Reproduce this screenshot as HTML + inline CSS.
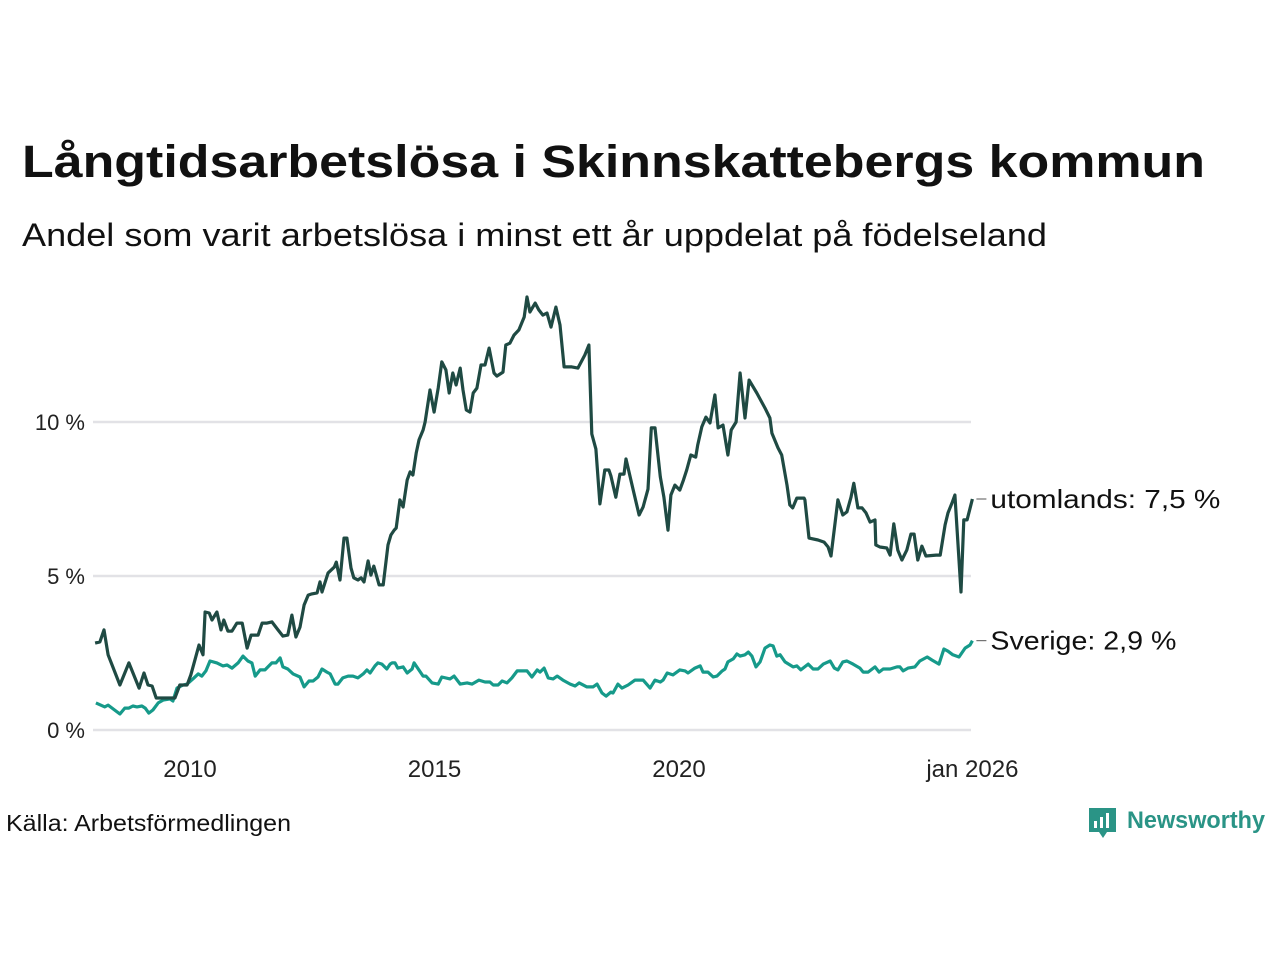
<!DOCTYPE html>
<html><head><meta charset="utf-8"><style>
html,body{margin:0;padding:0;background:#fff;}
svg{display:block;font-family:"Liberation Sans","DejaVu Sans",sans-serif;}
</style></head><body>
<svg id="chart" width="1280" height="960" viewBox="0 0 1280 960">
<text x="22" y="177" font-size="45" font-weight="bold" fill="#111" textLength="1183" lengthAdjust="spacingAndGlyphs">Långtidsarbetslösa i Skinnskattebergs kommun</text>
<text x="22" y="246" font-size="32" fill="#111" textLength="1025" lengthAdjust="spacingAndGlyphs">Andel som varit arbetslösa i minst ett år uppdelat på födelseland</text>
<g id="grid"></g>
<g id="yticks"></g>
<g id="xticks"></g>
<g id="lines"></g>
<g id="labels"></g>
<text x="6" y="831" font-size="23" fill="#111" textLength="285" lengthAdjust="spacingAndGlyphs">Källa: Arbetsförmedlingen</text>
<g>
<path d="M1089 808 h27 v24 h-9 l-4 6 l-4 -6 h-10 z" fill="#2a9486"/>
<rect x="1094" y="821" width="3" height="7" fill="#fff"/><rect x="1100" y="817" width="3" height="11" fill="#fff"/><rect x="1106" y="813" width="3" height="15" fill="#fff"/>
<text x="1127" y="828" font-size="24" font-weight="bold" fill="#2a9486" textLength="138" lengthAdjust="spacingAndGlyphs">Newsworthy</text>
</g>
</svg>
<script>
const yTicks=[0,5,10];
const yTickLabels=["0 %","5 %","10 %"];
const xTickMonths=[24,84,144,216];
const xTickLabels=["2010","2015","2020","jan 2026"];
const utoMonths=[0.7,1.9,2.9,3.9,6.8,9.0,11.5,12.7,13.7,14.7,15.7,19.1,20.3,21.5,23.3,24.2,25.2,26.2,27.2,27.7,28.7,29.4,30.6,31.6,32.3,33.3,34.3,35.5,36.8,38.0,39.0,40.7,41.7,42.9,44.1,45.6,46.8,48.0,49.0,50.0,51.0,52.0,53.0,53.9,55.2,55.9,56.4,57.9,59.4,59.9,60.8,61.8,62.5,63.5,64.2,65.2,66.0,66.7,67.7,68.4,69.1,70.4,71.4,72.6,73.3,74.1,74.6,75.5,76.3,77.3,78.0,78.7,79.5,80.2,81.2,81.7,82.9,83.9,84.9,85.8,86.8,87.6,88.5,89.3,90.3,91.0,91.8,92.7,93.5,94.4,95.4,96.4,97.4,98.6,99.3,100.8,101.5,102.5,103.5,104.7,106.0,106.7,107.4,108.7,109.6,110.6,111.6,112.6,113.8,114.8,115.8,116.8,117.7,119.2,120.9,121.9,122.6,123.6,124.6,125.8,126.8,127.3,128.5,129.5,130.5,131.0,132.7,134.2,135.2,136.4,137.2,138.1,139.4,140.3,141.3,142.0,143.0,144.2,145.1,145.9,146.9,148.1,148.6,149.6,150.6,151.6,152.8,153.6,154.8,156.0,156.8,158.0,159.0,160.2,161.2,163.1,165.1,166.3,166.8,168.3,169.2,170.5,171.2,171.9,172.9,174.7,174.9,175.9,178.1,179.6,180.6,181.3,183.0,184.2,185.2,186.2,186.9,187.9,188.9,189.9,190.9,192.1,192.3,193.3,195.0,195.8,196.7,197.7,198.7,199.9,200.9,201.7,202.6,203.6,204.6,207.1,208.1,209.3,210.0,211.0,211.7,213.2,213.9,214.7,216];
const utoValues=[2.82,2.86,3.25,2.44,1.46,2.18,1.36,1.85,1.46,1.43,1.04,1.04,1.04,1.46,1.46,1.79,2.27,2.76,2.44,3.83,3.80,3.57,3.83,3.25,3.57,3.21,3.21,3.47,3.47,2.66,3.08,3.08,3.47,3.47,3.51,3.25,3.05,3.08,3.73,3.02,3.34,4.06,4.38,4.42,4.45,4.81,4.48,5.10,5.29,5.45,4.87,6.23,6.23,5.26,4.94,4.87,4.94,4.81,5.49,5.03,5.32,4.71,4.71,6.01,6.33,6.49,6.56,7.47,7.24,8.12,8.38,8.28,8.99,9.42,9.74,10.00,11.04,10.32,11.10,11.95,11.69,10.94,11.59,11.20,11.75,11.04,10.39,10.32,10.94,11.10,11.85,11.85,12.40,11.59,11.49,11.62,12.50,12.56,12.82,12.99,13.41,14.06,13.57,13.86,13.64,13.47,13.54,13.08,13.73,13.15,11.79,11.79,11.79,11.75,12.18,12.50,9.61,9.12,7.34,8.44,8.44,8.25,7.56,8.31,8.31,8.80,7.82,6.98,7.24,7.82,9.81,9.81,8.22,7.56,6.49,7.63,7.95,7.79,8.12,8.44,8.93,8.86,9.25,9.84,10.16,9.97,10.88,9.81,9.90,8.93,9.74,10.00,11.59,10.13,11.36,10.94,10.45,10.13,9.64,9.16,8.93,7.95,7.31,7.21,7.53,7.53,7.47,6.23,6.17,6.10,5.94,5.65,7.47,6.98,7.08,7.56,8.01,7.21,7.21,7.05,6.75,6.82,6.01,5.94,5.91,5.68,6.69,5.84,5.52,5.84,6.36,6.36,5.52,5.97,5.65,5.68,5.68,6.66,7.05,7.37,7.63,4.48,6.82,6.82,7.5];
const sveMonths=[0.9,3.1,3.9,6.8,8.0,9.0,10.0,11.0,12.2,13.0,13.9,14.9,16.2,17.4,19.1,19.8,20.8,22.3,23.3,24.7,26.0,26.9,27.9,28.9,30.6,32.1,33.1,34.3,35.8,37.0,38.2,39.2,40.0,41.2,42.4,44.1,45.1,46.1,46.8,48.0,49.3,51.0,52.0,53.2,54.2,55.4,56.4,57.6,58.4,59.6,60.3,61.5,62.8,64.0,65.2,66.5,67.4,68.2,69.4,70.1,71.1,72.3,73.1,73.6,74.3,75.0,76.3,77.3,78.5,79.0,81.2,81.9,83.4,84.9,85.8,87.8,88.8,90.3,92.0,93.2,94.9,96.4,97.6,98.4,99.6,100.6,101.8,103.0,104.3,106.7,107.9,109.2,109.9,110.9,111.9,113.1,114.1,115.5,117.3,118.5,119.5,121.4,122.9,123.9,125.1,126.1,127.3,127.8,129.0,130.0,131.5,133.2,135.2,136.9,138.1,139.4,140.1,141.1,142.5,144.2,145.5,146.2,147.9,149.2,149.9,151.1,152.4,153.3,154.6,155.3,156.0,157.3,158.2,159.0,160.2,161.0,161.9,162.9,163.9,165.1,166.3,167.1,168.0,168.8,170.0,172.0,172.9,173.9,175.7,176.9,178.1,179.4,181.1,182.1,183.0,184.2,185.2,186.7,188.4,189.2,190.4,192.1,193.1,194.1,195.8,197.5,198.2,199.0,200.2,201.9,203.1,204.9,206.1,207.8,209.0,210.0,211.2,212.7,214.2,215.4,216];
const sveValues=[0.88,0.75,0.81,0.52,0.71,0.71,0.78,0.75,0.78,0.71,0.55,0.65,0.88,0.97,1.01,0.94,1.36,1.46,1.49,1.66,1.82,1.75,1.92,2.24,2.18,2.08,2.11,2.01,2.18,2.40,2.24,2.18,1.75,1.95,1.95,2.18,2.18,2.34,2.05,1.98,1.82,1.72,1.40,1.59,1.59,1.72,1.98,1.88,1.82,1.49,1.49,1.69,1.75,1.75,1.69,1.82,1.95,1.85,2.08,2.18,2.14,1.98,2.14,2.18,2.18,2.01,2.05,1.85,1.98,2.18,1.75,1.75,1.53,1.49,1.72,1.66,1.75,1.49,1.53,1.49,1.62,1.56,1.56,1.46,1.46,1.59,1.53,1.69,1.92,1.92,1.72,1.95,1.88,2.01,1.69,1.66,1.75,1.62,1.49,1.43,1.53,1.40,1.40,1.49,1.20,1.10,1.23,1.20,1.49,1.36,1.46,1.62,1.62,1.36,1.62,1.56,1.62,1.85,1.79,1.95,1.92,1.85,2.01,2.08,1.88,1.88,1.72,1.75,1.92,1.98,2.21,2.31,2.47,2.40,2.44,2.53,2.40,2.05,2.21,2.66,2.76,2.73,2.40,2.44,2.21,2.05,2.08,1.95,2.14,1.98,1.98,2.14,2.24,2.01,1.95,2.21,2.24,2.14,2.01,1.88,1.88,2.05,1.88,1.98,1.98,2.05,2.05,1.92,2.01,2.05,2.24,2.37,2.27,2.14,2.63,2.56,2.44,2.37,2.66,2.76,2.9];

const NS='http://www.w3.org/2000/svg';
const X0=92.2, PXM=48.9/12, Y0=730, PXV=30.8;
function xs(m){return X0+m*PXM;}
function ys(v){return Y0-v*PXV;}
function mk(tag,attrs,parent){const e=document.createElementNS(NS,tag);for(const k in attrs)e.setAttribute(k,attrs[k]);parent.appendChild(e);return e;}
const grid=document.getElementById('grid'),yt=document.getElementById('yticks'),xt=document.getElementById('xticks'),lines=document.getElementById('lines'),labels=document.getElementById('labels');
yTicks.forEach((v,i)=>{
  const l=mk('line',{x1:93,x2:971,y1:ys(v),y2:ys(v),stroke:'#e2e2e6','stroke-width':2.5},grid);
  
  
  const t=mk('text',{x:85,y:ys(v)+8,'font-size':22,fill:'#222','text-anchor':'end'},yt);
  t.textContent=yTickLabels[i];
  
  
});
xTickMonths.forEach((m,i)=>{
  const t=mk('text',{x:xs(m),y:777,'font-size':24,fill:'#222','text-anchor':'middle'},xt);
  t.textContent=xTickLabels[i];
  
  
});
function drawLine(ms,vs,color,name){
  const d=ms.map((m,i)=>(i?'L':'M')+xs(m).toFixed(1)+' '+ys(vs[i]).toFixed(1)).join(' ');
  const p=mk('path',{d:d,fill:'none',stroke:color,'stroke-width':3.2,'stroke-linejoin':'round'},lines);
  
  
}
drawLine(sveMonths,sveValues,'#169a8a','line-sverige');
drawLine(utoMonths,utoValues,'#1f4a43','line-utomlands');
function endLabel(ms,vs,text,name,w){
  const x=xs(ms[ms.length-1]),y=ys(vs[vs.length-1]);
  mk('line',{x1:x+4,x2:x+14,y1:y,y2:y,stroke:'#555','stroke-width':1},labels);
  const t=mk('text',{x:x+18,y:y+9,'font-size':26,fill:'#111',textLength:w,lengthAdjust:'spacingAndGlyphs'},labels);
  t.textContent=text;
  
  
}
endLabel(utoMonths,utoValues,'utomlands: 7,5 %','label-utomlands',230);
endLabel(sveMonths,sveValues,'Sverige: 2,9 %','label-sverige',186);
</script>
</body></html>
